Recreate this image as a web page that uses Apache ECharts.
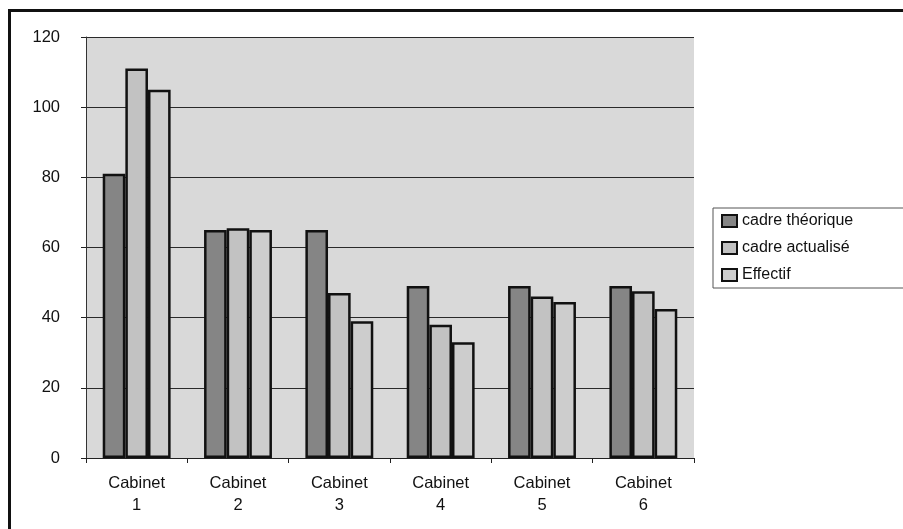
<!DOCTYPE html>
<html>
<head>
<meta charset="utf-8">
<script src="https://cdn.jsdelivr.net/npm/echarts@6/dist/echarts.min.js"></script>
<style>
  html, body { margin: 0; padding: 0; background: #fff; }
  #chart { width: 903px; height: 529px; }
</style>
</head>
<body>
<div id="chart"></div>
<script>
// Staffing per cabinet: theoretical, updated and actual headcount
const categories = ['Cabinet\n1', 'Cabinet\n2', 'Cabinet\n3', 'Cabinet\n4', 'Cabinet\n5', 'Cabinet\n6'];
const cadreTheorique = [81, 65, 65, 49, 49, 49];
const cadreActualise = [111, 65.5, 47, 38, 46, 47.5];
const effectif = [105, 65, 39, 33, 44.5, 42.5];
const yTicks = { min: 0, max: 120, interval: 20 };

const seriesNames = ['cadre théorique', 'cadre actualisé', 'Effectif'];
const seriesColors = ['#858585', '#c2c2c2', '#cdcdcd'];
const seriesData = [cadreTheorique, cadreActualise, effectif];

const chart = echarts.init(document.getElementById('chart'));

chart.setOption({
  animation: false,
  backgroundColor: '#ffffff',
  textStyle: { fontFamily: 'Liberation Sans, Arial, sans-serif' },
  grid: {
    left: 86, right: 209, top: 37, bottom: 71,
    show: true,
    backgroundColor: '#d9d9d9',
    borderWidth: 0
  },
  legend: {
    orient: 'vertical',
    left: 713, top: 208,
    padding: [5, 200, 5, 8],
    itemGap: 11,
    itemWidth: 15, itemHeight: 12,
    icon: 'rect',
    borderColor: '#555', borderWidth: 1,
    textStyle: { fontSize: 16, color: '#111' },
    data: seriesNames
  },
  xAxis: {
    type: 'category',
    data: categories,
    axisLine: { lineStyle: { color: '#222', width: 1 } },
    axisTick: { show: true, length: 5, inside: false, lineStyle: { color: '#222' } },
    axisLabel: { fontSize: 16.5, color: '#111', lineHeight: 22, margin: 14, interval: 0 },
    splitLine: { show: false }
  },
  yAxis: {
    type: 'value',
    min: yTicks.min, max: yTicks.max, interval: yTicks.interval,
    axisLine: { show: true, lineStyle: { color: '#333', width: 1 } },
    axisTick: { show: true, length: 5, lineStyle: { color: '#222' } },
    axisLabel: { fontSize: 16.5, color: '#111', margin: 26 },
    splitLine: { show: true, lineStyle: { color: '#2a2a2a', width: 1 } }
  },
  series: seriesNames.map((name, i) => ({
    name: name,
    type: 'bar',
    data: seriesData[i],
    barGap: '0%',
    barCategoryGap: '33%',
    itemStyle: { color: seriesColors[i], borderColor: '#111', borderWidth: 2.5 }
  })),
  graphic: [{
    type: 'rect',
    shape: { x: 9.5, y: 10.5, width: 1000, height: 1000 },
    style: { fill: 'none', stroke: '#111', lineWidth: 3 },
    silent: true
  }]
});
</script>
</body>
</html>
